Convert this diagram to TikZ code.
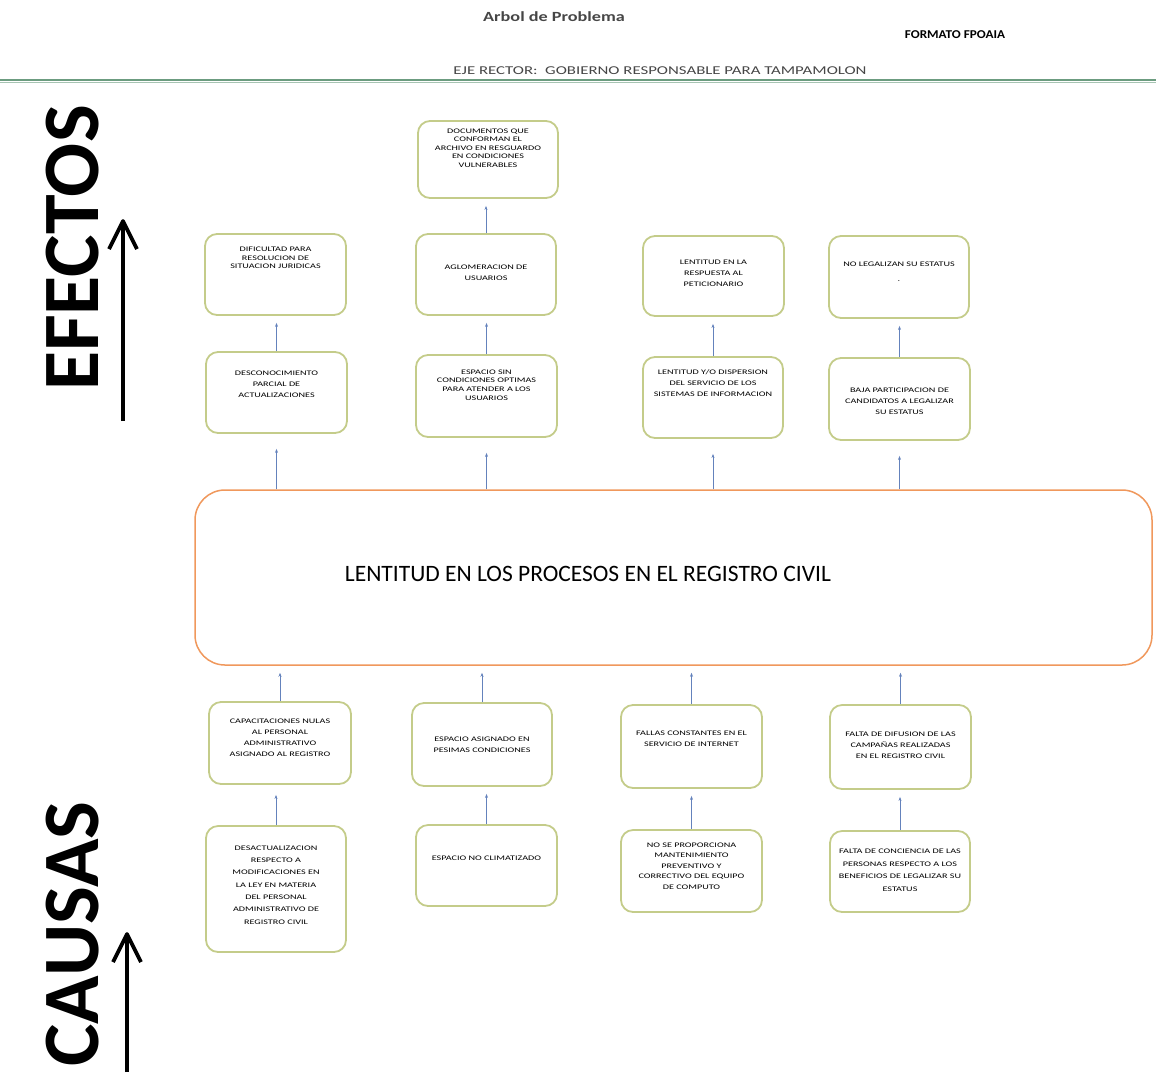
\documentclass[tikz,border=0pt]{standalone}
\usepackage{fontspec}
\setmainfont{Carlito}
\newfontfamily\cajafont[FakeStretch=1.45]{Carlito}
\newfontfamily\titulofont[FakeStretch=1.3]{Carlito}
\newfontfamily\formatofont[FakeStretch=1.1]{Carlito}
\newfontfamily\ejefont[FakeStretch=1.4]{Carlito}
\usetikzlibrary{arrows.meta}
\definecolor{bordecaja}{RGB}{196,204,138}
\definecolor{naranja}{RGB}{240,152,92}
\definecolor{azulflecha}{RGB}{100,130,188}
\definecolor{verdelinea}{RGB}{108,156,128}
\definecolor{grisejes}{RGB}{70,70,70}
\begin{document}
\begin{tikzpicture}[x=1pt,y=-1pt,
  caja/.style={draw=bordecaja,line width=1.8pt,rounded corners=12pt,fill=white,inner sep=0pt},
  txt/.style={align=center,font=\cajafont\fontsize{7}{11}\selectfont,inner sep=0pt},
  txtc/.style={txt,font=\cajafont\fontsize{7}{8.6}\selectfont},
  flecha/.style={draw=azulflecha,line width=0.6pt,-{Stealth[length=4pt,width=3pt]},shorten >=7pt},
  flechagrande/.style={line width=3.8pt,line join=round},
  grande/.style={rotate=90,inner sep=0pt,font=\fontsize{80}{80}\bfseries\selectfont}]
\useasboundingbox (0,0) rectangle (1156,1072);

\node[font=\titulofont\fontsize{14}{14}\bfseries\selectfont,text=grisejes] (titulo) at (554,17) {Arbol de Problema};
\node[font=\formatofont\fontsize{12}{12}\bfseries\selectfont] (formato) at (955,35) {FORMATO FPOAIA};
\node[font=\ejefont\fontsize{12}{12}\selectfont,text=grisejes] (eje) at (660,71) {EJE RECTOR:\ \ GOBIERNO RESPONSABLE PARA TAMPAMOLON};
\draw[verdelinea,line width=1.2pt] (0,80) -- (1156,80);
\draw[verdelinea!60,line width=1pt] (0,82.5) -- (1156,82.5);

\node[grande] (efectos) at (72.5,248) {EFECTOS};
\coordinate (efa) at (123,421);
\coordinate (efb) at (123,221);
\draw[flechagrande] (efa) -- (efb);
\draw[flechagrande] (efb) ++(-14,28) -- (efb) -- ++(14,28);
\node[grande] (causas) at (72.5,934) {CAUSAS};
\coordinate (caa) at (127,1072);
\coordinate (cab) at (127,934);
\draw[flechagrande] (caa) -- (cab);
\draw[flechagrande] (cab) ++(-14,28) -- (cab) -- ++(14,28);

\node[caja,minimum width=140,minimum height=77] (docs) at (488,159.5) {};
\node[txtc] (docst) at (488,148) {DOCUMENTOS QUE\\CONFORMAN EL\\ARCHIVO EN RESGUARDO\\EN CONDICIONES\\VULNERABLES};

\node[caja,minimum width=141,minimum height=81] (e2a) at (275.5,274.5) {};
\node[txtc] (e2at) at (275.5,258) {DIFICULTAD PARA\\RESOLUCION DE\\SITUACION JURIDICAS};
\node[caja,minimum width=140,minimum height=81] (e2b) at (486,274.5) {};
\node[txt] (e2bt) at (486,273) {AGLOMERACION DE\\USUARIOS};
\node[caja,minimum width=141,minimum height=80] (e2c) at (713.5,276) {};
\node[txt] (e2ct) at (713.5,273) {LENTITUD EN LA\\RESPUESTA AL\\PETICIONARIO};
\node[caja,minimum width=140,minimum height=82] (e2d) at (899,277) {};
\node[txt] (e2dt) at (899,272) {NO LEGALIZAN SU ESTATUS\\[4pt].};

\node[caja,minimum width=141,minimum height=81] (e3a) at (276.5,392.5) {};
\node[txt] (e3at) at (276.5,384) {DESCONOCIMIENTO\\PARCIAL DE\\ACTUALIZACIONES};
\node[caja,minimum width=141,minimum height=82] (e3b) at (486.5,396) {};
\node[txtc] (e3bt) at (486.5,385) {ESPACIO SIN\\CONDICIONES OPTIMAS\\PARA ATENDER A LOS\\USUARIOS};
\node[caja,minimum width=140,minimum height=81] (e3c) at (713,397.5) {};
\node[txt] (e3ct) at (713,383) {LENTITUD Y/O DISPERSION\\DEL SERVICIO DE LOS\\SISTEMAS DE INFORMACION};
\node[caja,minimum width=141,minimum height=82] (e3d) at (899.5,399) {};
\node[txt] (e3dt) at (899.5,401) {BAJA PARTICIPACION DE\\CANDIDATOS A LEGALIZAR\\SU ESTATUS};

\node[draw=naranja,line width=1.5pt,rounded corners=30pt,fill=white,minimum width=957,minimum height=175] (centro) at (673.5,577.5) {};
\node[font=\fontsize{23.5}{23.5}\selectfont] (centrot) at (588,574) {LENTITUD EN LOS PROCESOS EN EL REGISTRO CIVIL};

\node[caja,minimum width=142,minimum height=82] (c1a) at (280,743) {};
\node[txt] (c1at) at (280,738) {CAPACITACIONES NULAS\\AL PERSONAL\\ADMINISTRATIVO\\ASIGNADO AL REGISTRO};
\node[caja,minimum width=140,minimum height=83] (c1b) at (482,744.5) {};
\node[txt] (c1bt) at (482,744.5) {ESPACIO ASIGNADO EN\\PESIMAS CONDICIONES};
\node[caja,minimum width=141,minimum height=83] (c1c) at (691.5,746.5) {};
\node[txt] (c1ct) at (691.5,739) {FALLAS CONSTANTES EN EL\\SERVICIO DE INTERNET};
\node[caja,minimum width=141,minimum height=84] (c1d) at (900.5,747) {};
\node[txt] (c1dt) at (900.5,745) {FALTA DE DIFUSION DE LAS\\CAMPAÑAS REALIZADAS\\EN EL REGISTRO CIVIL};

\node[caja,minimum width=140,minimum height=126] (c2a) at (276,889) {};
\node[txt,font=\cajafont\fontsize{7}{12.3}\selectfont] (c2at) at (276,885) {DESACTUALIZACION\\RESPECTO A\\MODIFICACIONES EN\\LA LEY EN MATERIA\\DEL PERSONAL\\ADMINISTRATIVO DE\\REGISTRO CIVIL};
\node[caja,minimum width=141,minimum height=81] (c2b) at (486.5,865.5) {};
\node[txt] (c2bt) at (486.5,858) {ESPACIO NO CLIMATIZADO};
\node[caja,minimum width=141,minimum height=82] (c2c) at (691.5,871) {};
\node[txt,font=\cajafont\fontsize{7}{10.5}\selectfont] (c2ct) at (691.5,866) {NO SE PROPORCIONA\\MANTENIMIENTO\\PREVENTIVO Y\\CORRECTIVO DEL EQUIPO\\DE COMPUTO};
\node[caja,minimum width=140,minimum height=81] (c2d) at (900,871.5) {};
\node[txt,font=\cajafont\fontsize{7}{12.5}\selectfont] (c2dt) at (900,870) {FALTA DE CONCIENCIA DE LAS\\PERSONAS RESPECTO A LOS\\BENEFICIOS DE LEGALIZAR SU\\ESTATUS};

\draw[flecha] (e2b.north) -- (e2b.north |- docs.south);
\draw[flecha] (e3a.north) -- (e3a.north |- e2a.south);
\draw[flecha] (e3b.north) -- (e3b.north |- e2b.south);
\draw[flecha] (e3c.north) -- (e3c.north |- e2c.south);
\draw[flecha] (e3d.north) -- (e3d.north |- e2d.south);
\draw[flecha,shorten >=15pt] (e3a.south |- centro.north) -- (e3a.south);
\draw[flecha,shorten >=15pt] (e3b.south |- centro.north) -- (e3b.south);
\draw[flecha,shorten >=15pt] (e3c.south |- centro.north) -- (e3c.south);
\draw[flecha,shorten >=15pt] (e3d.south |- centro.north) -- (e3d.south);
\draw[flecha] (c1a.north) -- (c1a.north |- centro.south);
\draw[flecha] (c1b.north) -- (c1b.north |- centro.south);
\draw[flecha] (c1c.north) -- (c1c.north |- centro.south);
\draw[flecha] (c1d.north) -- (c1d.north |- centro.south);
\draw[flecha,shorten >=10pt] (c2a.north) -- (c2a.north |- c1a.south);
\draw[flecha] (c2b.north) -- (c2b.north |- c1b.south);
\draw[flecha] (c2c.north) -- (c2c.north |- c1c.south);
\draw[flecha] (c2d.north) -- (c2d.north |- c1d.south);
\end{tikzpicture}
\end{document}
